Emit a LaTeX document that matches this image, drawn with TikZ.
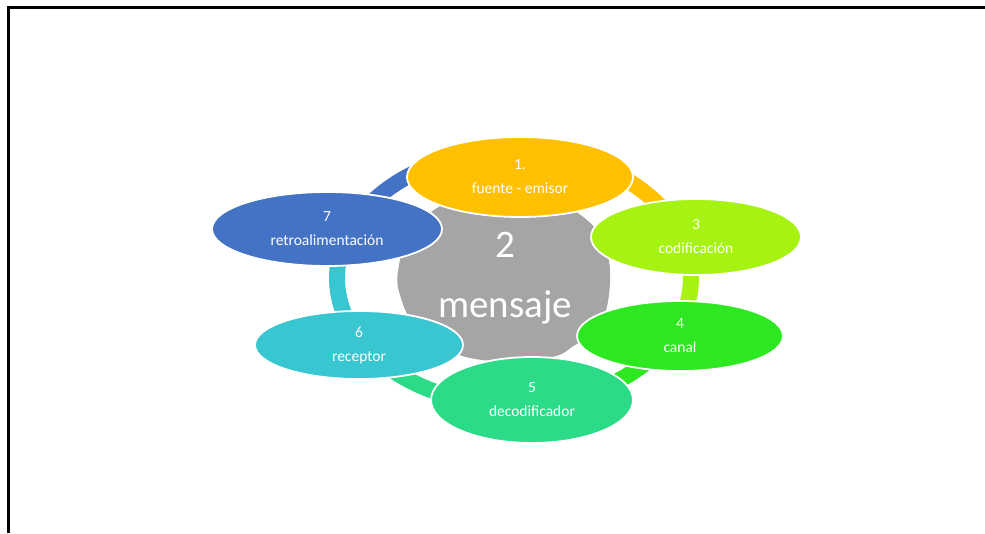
\documentclass[tikz,border=0pt]{standalone}
\usepackage{fontspec}
\setmainfont{Carlito}
\usetikzlibrary{shapes.geometric}
\definecolor{cOrange}{HTML}{FFC000}
\definecolor{cLime}{HTML}{A6F210}
\definecolor{cGreen}{HTML}{2DE820}
\definecolor{cTeal}{HTML}{2BDB88}
\definecolor{cCyan}{HTML}{38C6D0}
\definecolor{cBlue}{HTML}{4472C4}
\definecolor{cGray}{HTML}{A5A5A5}
\begin{document}
\begin{tikzpicture}[x=1pt,y=1pt,
  bubble/.style={ellipse, draw=white, line width=1.8pt, inner sep=0pt},
  txt/.style={anchor=base, text=white, inner sep=0pt, font=\fontsize{15.5}{18}\selectfont},
  bigtxt/.style={anchor=base, text=white, inner sep=0pt, font=\fontsize{39}{44}\selectfont},
  ringseg/.style={line width=16pt},
  frame/.style={line width=3pt, black}]
\useasboundingbox (0,0) rectangle (985,533);
% frame
\coordinate (fa) at (8,0);
\coordinate (fb) at (8,525);
\coordinate (fc) at (985,525);
\draw[frame] (fa) -- (fb) -- (fc);
% ring
\coordinate (rc) at (514,255);
\draw[ringseg,cBlue]   (rc) ++(87.5:177 and 127) arc[start angle=87.5, end angle=160, x radius=177, y radius=127];
\draw[ringseg,cOrange] (rc) ++(17:177 and 127) arc[start angle=17, end angle=87.5, x radius=177, y radius=127];
\draw[ringseg,cLime]   (rc) ++(-26:177 and 127) arc[start angle=-26, end angle=17, x radius=177, y radius=127];
\draw[ringseg,cGreen]  (rc) ++(-84:177 and 127) arc[start angle=-84, end angle=-26, x radius=177, y radius=127];
\draw[ringseg,cTeal]   (rc) ++(-149:177 and 127) arc[start angle=-149, end angle=-84, x radius=177, y radius=127];
\draw[ringseg,cCyan]   (rc) ++(160:177 and 127) arc[start angle=160, end angle=211, x radius=177, y radius=127];
% centre shape
\fill[cGray] plot[smooth cycle, tension=0.7] coordinates {
  (437,325) (470,335) (540,335) (582,317) (604,288) (610,250) (600,208)
  (575,188) (545,175) (470,175) (420,203) (400,238) (399,268) (410,298)};
\node[bigtxt] (c2) at (505,275) {2};
\node[bigtxt] (cm) at (505,215) {mensaje};
% bubbles
\node[bubble, fill=cBlue,   minimum width=230, minimum height=74] (e7) at (327,304) {};
\node[bubble, fill=cCyan,   minimum width=208, minimum height=68] (e6) at (359,188) {};
\node[bubble, fill=cTeal,   minimum width=202, minimum height=86] (e5) at (532,133) {};
\node[bubble, fill=cGreen,  minimum width=206, minimum height=70] (e4) at (680,197) {};
\node[bubble, fill=cLime,   minimum width=210, minimum height=76] (e3) at (696,296) {};
\node[bubble, fill=cOrange, minimum width=226, minimum height=80] (e1) at (520,356) {};
% texts
\node[txt] (n1) at ([yshift=7]e1.center) {1.};
\node[txt] (l1) at ([yshift=-16.5]e1.center) {fuente - emisor};
\node[txt] (n3) at ([yshift=7]e3.center) {3};
\node[txt] (l3) at ([yshift=-16.5]e3.center) {codificación};
\node[txt] (n4) at ([yshift=7]e4.center) {4};
\node[txt] (l4) at ([yshift=-16.5]e4.center) {canal};
\node[txt] (n5) at ([yshift=7]e5.center) {5};
\node[txt] (l5) at ([yshift=-16.5]e5.center) {decodificador};
\node[txt] (n6) at ([yshift=7]e6.center) {6};
\node[txt] (l6) at ([yshift=-16.5]e6.center) {receptor};
\node[txt] (n7) at ([yshift=7]e7.center) {7};
\node[txt] (l7) at ([yshift=-16.5]e7.center) {retroalimentación};
\end{tikzpicture}
\end{document}
